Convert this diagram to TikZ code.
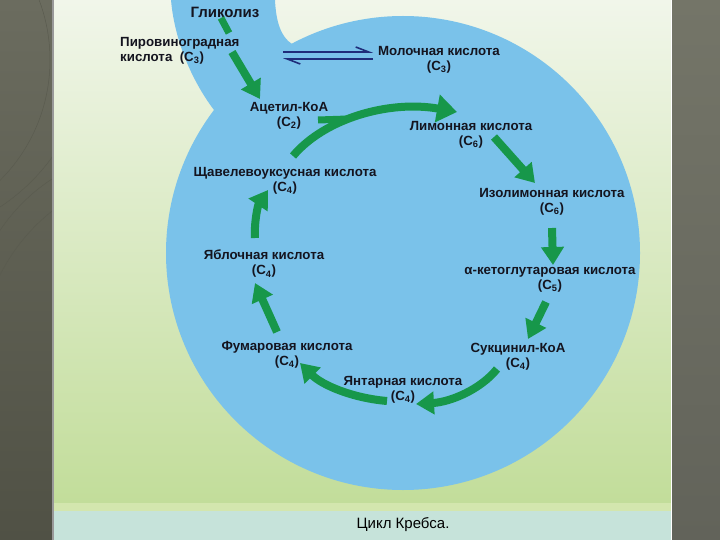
\documentclass[tikz,border=0pt]{standalone}
\usepackage{fontspec}
\setmainfont{Liberation Sans}
\usetikzlibrary{arrows.meta}
\definecolor{bandtop}{HTML}{6B6C5F}
\definecolor{bandbot}{HTML}{505145}
\definecolor{bandrtop}{HTML}{747568}
\definecolor{bandrbot}{HTML}{62635A}
\definecolor{bandline}{HTML}{5A5B4F}
\definecolor{bgtop}{HTML}{F1F6EA}
\definecolor{bgbot}{HTML}{C2DD9A}
\definecolor{bgstrip}{HTML}{D3E6AE}
\definecolor{capbg}{HTML}{C6E3DA}
\definecolor{cellblue}{HTML}{7AC2EA}
\definecolor{cycgreen}{HTML}{17974A}
\definecolor{eqblue}{HTML}{1F2D7A}
\definecolor{labelink}{HTML}{14141F}
\tikzset{
  lbl/.style={font=\fontsize{13.3}{15}\selectfont\bfseries, text=labelink, align=center, inner sep=0pt},
  cyc/.style={draw=cycgreen, line width=8pt, -{Triangle[length=18pt,width=22pt]}},
  eqarrow/.style={draw=eqblue, line width=1.6pt, -{Straight Barb[harpoon,length=13pt,width=10pt]}}
}
\begin{document}
\begin{tikzpicture}[x=1pt,y=-1pt]
	\useasboundingbox (0,0) rectangle (720,540);
	\shade[top color=bandtop,bottom color=bandbot] (0,0) rectangle (54,540);
	\shade[top color=bandrtop,bottom color=bandrbot] (672,0) rectangle (720,540);
	\begin{scope}
	\clip (0,0) rectangle (52,320);
	\draw[bandline,line width=0.5pt] (150,330) circle[radius=180];
	\draw[bandline,line width=0.5pt] (170,360) circle[radius=190];
	\draw[bandline,line width=0.5pt] (-120,60) circle[radius=170];
	\draw[bandline,line width=0.5pt] (-110,40) circle[radius=200];
	\end{scope}
	\draw[gray!80,line width=1.5pt] (53,0) -- (53,540);
	\shade[top color=bgtop,bottom color=bgbot] (54,0) rectangle (671,503);
	\fill[bgstrip] (54,503) rectangle (671,511);
	\fill[capbg] (54,511) rectangle (671,540);
	\draw[white,line width=1.2pt] (671.5,0) -- (671.5,540);
	\fill[cellblue] (403,253) circle[radius=237];
	\fill[cellblue] (171,0) -- (275,0) .. controls (276,22) and (281,37) .. (292,44) -- (320,150) -- (214,110) .. controls (195,85) and (175,45) .. (171,0) -- cycle;
	\node[lbl,font=\fontsize{15}{17}\selectfont\bfseries] (glyc) at (225,12) {Гликолиз};
	\node[lbl,align=left,anchor=west] (pyr) at (120,51) {Пировиноградная\\кислота\ \ (C\textsubscript{3})};
	\node[lbl] (lact) at (439,60) {Молочная кислота\\(C\textsubscript{3})};
	\node[lbl] (acet) at (289,116) {Ацетил-КоА\\(C\textsubscript{2})};
	\node[lbl] (cit) at (471,135) {Лимонная кислота\\(C\textsubscript{6})};
	\node[lbl] (oxa) at (285,181) {Щавелевоуксусная кислота\\(C\textsubscript{4})};
	\node[lbl] (iso) at (552,202) {Изолимонная кислота\\(C\textsubscript{6})};
	\node[lbl] (mal) at (264,264) {Яблочная кислота\\(C\textsubscript{4})};
	\node[lbl] (akg) at (550,280) {α-кетоглутаровая кислота\\(C\textsubscript{5})};
	\node[lbl] (fum) at (287,355) {Фумаровая кислота\\(C\textsubscript{4})};
	\node[lbl] (sca) at (518,357) {Сукцинил-КоА\\(C\textsubscript{4})};
	\node[lbl] (succ) at (403,390) {Янтарная кислота\\(C\textsubscript{4})};
	\node[font=\fontsize{15}{18}\selectfont,text=black] (cap) at (403,525) {Цикл Кребса.};
	\coordinate (glyc-a) at (221,18);
	\coordinate (glyc-b) at (229,33);
	\coordinate (pyr-a) at (232,52);
	\coordinate (acet-in) at (260,99);
	\coordinate (pyr-eq) at (283,52);
	\coordinate (lact-eq) at (373,52);
	\coordinate (lact-back) at (373,59);
	\coordinate (pyr-back) at (283,59);
	\coordinate (oxa-out) at (293,156);
	\coordinate (cit-in) at (457,112);
	\coordinate (acet-out) at (318,120);
	\coordinate (acet-join) at (348,119);
	\coordinate (cit-out) at (494,137);
	\coordinate (iso-in) at (535,183);
	\coordinate (iso-out) at (552,228);
	\coordinate (akg-in) at (553,265);
	\coordinate (akg-out) at (546,302);
	\coordinate (sca-in) at (528,339);
	\coordinate (sca-out) at (497,369);
	\coordinate (succ-in) at (416,404);
	\coordinate (succ-out) at (387,401);
	\coordinate (fum-in) at (300,363);
	\coordinate (fum-out) at (277,332);
	\coordinate (mal-in) at (255,283);
	\coordinate (mal-out) at (255,238);
	\coordinate (oxa-in) at (268,190);
	\draw[cycgreen,line width=7pt] (glyc-a) -- (glyc-b);
	\draw[cyc] (pyr-a) -- (acet-in);
	\draw[eqarrow] (pyr-eq) -- (lact-eq);
	\draw[eqarrow] (lact-back) -- (pyr-back);
	\draw[cyc,-{Triangle[length=20pt,width=27pt]}] (oxa-out) .. controls (325,118) and (390,100) .. (cit-in);
	\draw[cycgreen,line width=7pt] (acet-out) -- (acet-join);
	\draw[cyc] (cit-out) -- (iso-in);
	\draw[cyc] (iso-out) -- (akg-in);
	\draw[cyc] (akg-out) -- (sca-in);
	\draw[cyc] (sca-out) .. controls (480,390) and (450,402) .. (succ-in);
	\draw[cyc] (succ-out) .. controls (352,398) and (322,385) .. (fum-in);
	\draw[cyc] (fum-out) -- (mal-in);
	\draw[cyc] (mal-out) .. controls (254,222) and (258,205) .. (oxa-in);
\end{tikzpicture}
\end{document}
